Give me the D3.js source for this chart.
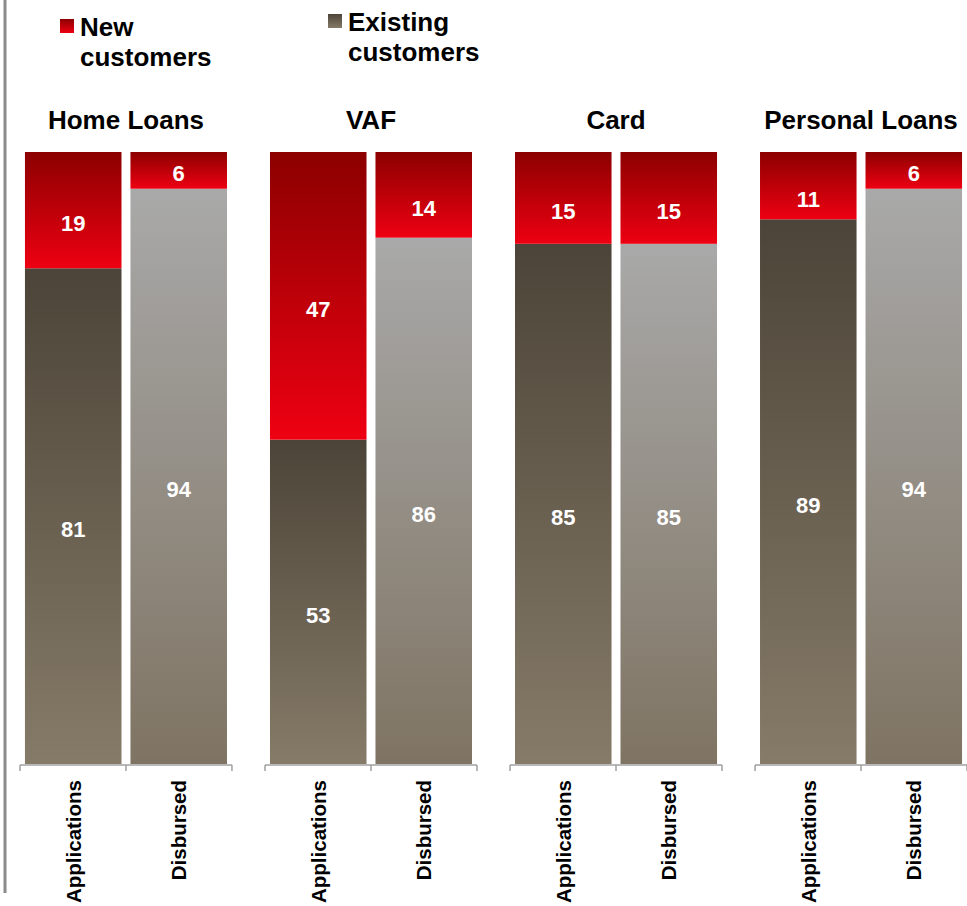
<!DOCTYPE html>
<html>
<head>
<meta charset="utf-8">
<script src="https://cdn.jsdelivr.net/npm/d3@7"></script>
<style>
  html, body { margin: 0; padding: 0; background: #fff; }
  svg { display: block; font-family: "Liberation Sans", Arial, sans-serif; }
</style>
</head>
<body>
<svg id="chart" width="967" height="906"></svg>
<script>
// Share of new vs existing customers (%) per product, applications vs disbursed
const products = ["Home Loans", "VAF", "Card", "Personal Loans"];
const stages = ["Applications", "Disbursed"];
const newApplications = [19, 47, 15, 11];
const newDisbursed = [6, 14, 15, 6];
const existingApplications = [81, 53, 85, 89];
const existingDisbursed = [94, 86, 85, 94];
const legendLabels = [["New", "customers"], ["Existing", "customers"]];

const svg = d3.select("#chart");

// gradients
const defs = svg.append("defs");
function vGrad(id, top, bottom) {
  const g = defs.append("linearGradient").attr("id", id)
    .attr("x1", 0).attr("y1", 0).attr("x2", 0).attr("y2", 1);
  g.append("stop").attr("offset", "0%").attr("stop-color", top);
  g.append("stop").attr("offset", "100%").attr("stop-color", bottom);
}
vGrad("gNew", "#8c0000", "#ee0012");
vGrad("gExistApp", "#4c4438", "#867b68");
vGrad("gExistDisb", "#a9a9a9", "#7f7463");

// left rule
svg.append("line")
  .attr("x1", 5).attr("x2", 5).attr("y1", 0).attr("y2", 893)
  .attr("stroke", "#8a8a8a").attr("stroke-width", 3);

// legend
const legendPos = [{x: 60, y: 19, fill: "url(#gNew)", tx: 80, ty: 36},
                   {x: 328, y: 14, fill: "url(#gExistApp)", tx: 348, ty: 31}];
legendPos.forEach((p, i) => {
  svg.append("rect").attr("x", p.x).attr("y", p.y).attr("width", 14).attr("height", 14)
    .attr("fill", p.fill);
  const t = svg.append("text").attr("x", p.tx).attr("y", p.ty)
    .attr("font-size", 26).attr("font-weight", "bold").attr("fill", "#000");
  legendLabels[i].forEach((line, j) => {
    t.append("tspan").attr("x", p.tx).attr("dy", j === 0 ? 0 : 29.5).text(line);
  });
});

// scales
const x0 = d3.scaleBand().domain(products).range([20, 967]).paddingInner(0.135).paddingOuter(0);
const x1 = d3.scaleBand().domain(stages).range([0, x0.bandwidth()]).paddingInner(0.085).paddingOuter(0.047);
const y = d3.scaleLinear().domain([0, 100]).range([764, 152]);

const rows = products.map((p, i) => ({
  product: p,
  bars: [
    {stage: "Applications", nw: newApplications[i], ex: existingApplications[i], exFill: "url(#gExistApp)"},
    {stage: "Disbursed", nw: newDisbursed[i], ex: existingDisbursed[i], exFill: "url(#gExistDisb)"}
  ]
}));

const groups = svg.selectAll("g.product").data(rows).join("g")
  .attr("class", "product")
  .attr("transform", d => `translate(${x0(d.product)},0)`);

// product titles
groups.append("text")
  .attr("x", x0.bandwidth() / 2).attr("y", 129)
  .attr("text-anchor", "middle")
  .attr("font-size", 26).attr("font-weight", "bold").attr("fill", "#000")
  .text(d => d.product);

const bars = groups.selectAll("g.bar").data(d => d.bars).join("g")
  .attr("class", "bar")
  .attr("transform", d => `translate(${x1(d.stage)},0)`);

// existing customers (bottom segment)
bars.append("rect")
  .attr("x", 0).attr("width", x1.bandwidth())
  .attr("y", d => y(d.ex)).attr("height", d => y(0) - y(d.ex))
  .attr("fill", d => d.exFill);

// new customers (top segment)
bars.append("rect")
  .attr("x", 0).attr("width", x1.bandwidth())
  .attr("y", d => y(d.ex + d.nw)).attr("height", d => y(d.ex) - y(d.ex + d.nw))
  .attr("fill", "url(#gNew)");

function labelY(top, bottom) {
  const h = bottom - top;
  return (top + bottom) / 2 + Math.min(13, h / 2 - 16);
}

bars.append("text")
  .attr("x", x1.bandwidth() / 2)
  .attr("y", d => labelY(y(d.ex + d.nw), y(d.ex)))
  .attr("dy", "0.36em")
  .attr("text-anchor", "middle")
  .attr("font-size", 22).attr("font-weight", "bold").attr("fill", "#fff")
  .text(d => d.nw);

bars.append("text")
  .attr("x", x1.bandwidth() / 2)
  .attr("y", d => labelY(y(d.ex), y(0)))
  .attr("dy", "0.36em")
  .attr("text-anchor", "middle")
  .attr("font-size", 22).attr("font-weight", "bold").attr("fill", "#fff")
  .text(d => d.ex);

// category axis per product
const axisY = 765;
groups.each(function () {
  const g = d3.select(this);
  const ax = g.append("g").attr("transform", `translate(0,${axisY})`);
  ax.append("line").attr("x1", 0).attr("x2", x0.bandwidth())
    .attr("stroke", "#a0a0a0").attr("stroke-width", 1.5);
  const step = x1.step();
  const ticks = [0, x1("Disbursed") - (step - x1.bandwidth()) / 2, x0.bandwidth()];
  ax.selectAll("line.tick").data(ticks).join("line").attr("class", "tick")
    .attr("x1", d => d).attr("x2", d => d).attr("y1", 0).attr("y2", 6)
    .attr("stroke", "#a0a0a0").attr("stroke-width", 1.5);
});

bars.append("text")
  .attr("transform", `translate(${x1.bandwidth() / 2},780) rotate(-90)`)
  .attr("dy", "0.36em")
  .attr("text-anchor", "end")
  .attr("font-size", 20.5).attr("font-weight", "bold").attr("fill", "#000")
  .text(d => d.stage);
</script>
</body>
</html>
